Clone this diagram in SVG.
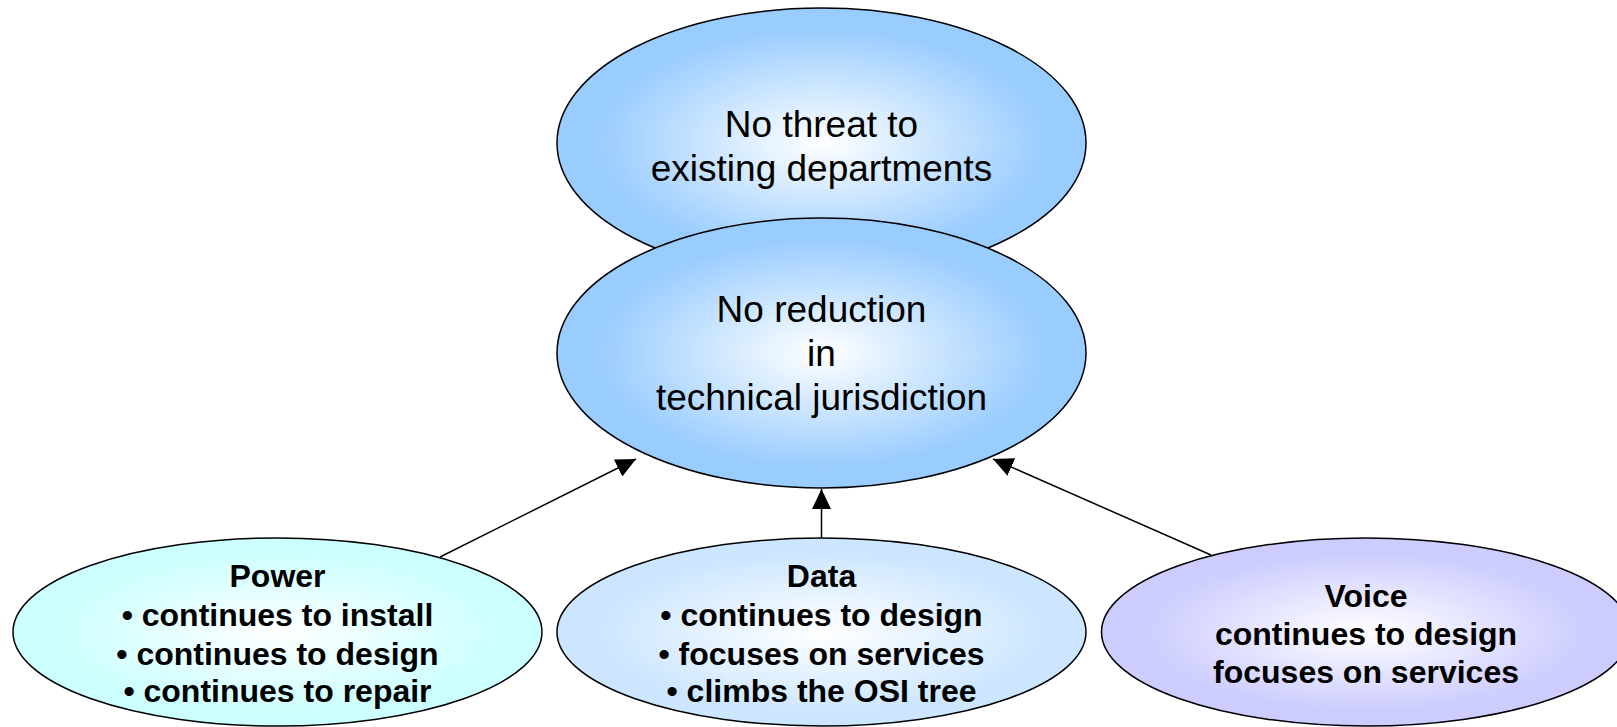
<svg xmlns="http://www.w3.org/2000/svg" width="1617" height="727" viewBox="0 0 1617 727">
<defs>
<radialGradient id="gBlue" cx="50%" cy="50%" r="50%"><stop offset="0" stop-color="#FFFFFF"/><stop offset="0.85" stop-color="#99CCFF"/><stop offset="1" stop-color="#99CCFF"/></radialGradient>
<radialGradient id="gCyan" cx="50%" cy="50%" r="50%"><stop offset="0" stop-color="#FFFFFF"/><stop offset="0.85" stop-color="#CCFFFF"/><stop offset="1" stop-color="#CCFFFF"/></radialGradient>
<radialGradient id="gData" cx="50%" cy="50%" r="50%"><stop offset="0" stop-color="#FFFFFF"/><stop offset="0.85" stop-color="#CCE6FF"/><stop offset="1" stop-color="#CCE6FF"/></radialGradient>
<radialGradient id="gVoice" cx="50%" cy="50%" r="50%"><stop offset="0" stop-color="#FFFFFF"/><stop offset="0.85" stop-color="#CCCCFF"/><stop offset="1" stop-color="#CCCCFF"/></radialGradient>
<marker id="arr" markerUnits="userSpaceOnUse" markerWidth="20" markerHeight="19" refX="20" refY="9.5" orient="auto"><path d="M0,0 L20,9.5 L0,19 z" fill="#000"/></marker>
</defs>
<style>
.node ellipse{stroke:#000;stroke-width:1.5}
.big{font-family:"Liberation Sans",Arial,sans-serif;font-size:37px;fill:#000;text-anchor:middle}
.sm{font-family:"Liberation Sans",Arial,sans-serif;font-size:32px;font-weight:bold;fill:#000;text-anchor:middle}
.conn line{stroke:#000;stroke-width:1.5}
</style>
<g id="threat" class="node">
<ellipse cx="821.5" cy="143" rx="264.5" ry="135" fill="url(#gBlue)"/>
<text class="big" x="821.5" y="137">No threat to</text>
<text class="big" x="821.5" y="181">existing departments</text>
</g>
<g id="reduction" class="node">
<ellipse cx="821.5" cy="353" rx="264.5" ry="135" fill="url(#gBlue)"/>
<text class="big" x="821.5" y="322">No reduction</text>
<text class="big" x="821.5" y="366">in</text>
<text class="big" x="821.5" y="410">technical jurisdiction</text>
</g>
<g id="power" class="node">
<ellipse cx="277.5" cy="632" rx="264.5" ry="94" fill="url(#gCyan)"/>
<text class="sm" x="277.5" y="587">Power</text>
<text class="sm" x="277.5" y="626">• continues to install</text>
<text class="sm" x="277.5" y="664.5">• continues to design</text>
<text class="sm" x="277.5" y="702">• continues to repair</text>
</g>
<g id="data" class="node">
<ellipse cx="821.5" cy="632" rx="264.5" ry="94" fill="url(#gData)"/>
<text class="sm" x="821.5" y="587">Data</text>
<text class="sm" x="821.5" y="626">• continues to design</text>
<text class="sm" x="821.5" y="664.5">• focuses on services</text>
<text class="sm" x="821.5" y="702">• climbs the OSI tree</text>
</g>
<g id="voice" class="node">
<ellipse cx="1366" cy="632" rx="264.5" ry="94" fill="url(#gVoice)"/>
<text class="sm" x="1366" y="607">Voice</text>
<text class="sm" x="1366" y="645">continues to design</text>
<text class="sm" x="1366" y="683">focuses on services</text>
</g>
<g id="connectors" class="conn">
<line x1="440" y1="557" x2="636" y2="459" marker-end="url(#arr)"/>
<line x1="821.5" y1="538" x2="821.5" y2="489" marker-end="url(#arr)"/>
<line x1="1211" y1="555" x2="993" y2="459" marker-end="url(#arr)"/>
</g>
</svg>
